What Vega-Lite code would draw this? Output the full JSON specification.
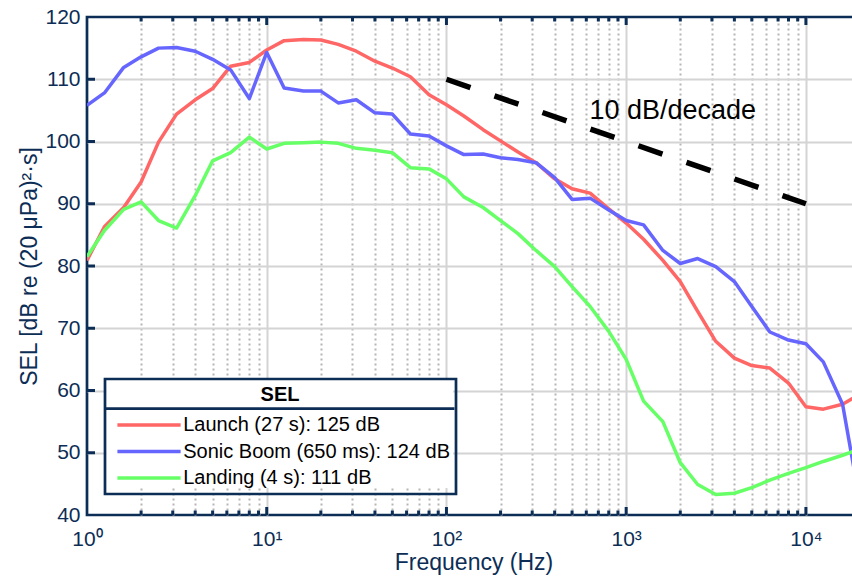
{
  "$schema": "https://vega.github.io/schema/vega-lite/v6.json",
  "autosize": {"type": "none"},
  "padding": {"left": 87, "top": 17, "right": 0, "bottom": 67},
  "width": 773,
  "height": 498,
  "config": {
    "font": "Liberation Sans",
    "view": {"stroke": "#0c2d55", "strokeWidth": 2.7},
    "legend": {"strokeWidth": 2.7}
  },
  "datasets": {
    "spectra": [
      {"series": "Launch (27 s): 125 dB", "freq": 1, "sel": 80.9},
      {"series": "Launch (27 s): 125 dB", "freq": 1.25, "sel": 86.3},
      {"series": "Launch (27 s): 125 dB", "freq": 1.6, "sel": 89.4},
      {"series": "Launch (27 s): 125 dB", "freq": 2, "sel": 93.5},
      {"series": "Launch (27 s): 125 dB", "freq": 2.5, "sel": 99.9},
      {"series": "Launch (27 s): 125 dB", "freq": 3.15, "sel": 104.4},
      {"series": "Launch (27 s): 125 dB", "freq": 4, "sel": 106.7},
      {"series": "Launch (27 s): 125 dB", "freq": 5, "sel": 108.5},
      {"series": "Launch (27 s): 125 dB", "freq": 6.3, "sel": 112.1},
      {"series": "Launch (27 s): 125 dB", "freq": 8, "sel": 112.7},
      {"series": "Launch (27 s): 125 dB", "freq": 10, "sel": 114.7},
      {"series": "Launch (27 s): 125 dB", "freq": 12.5, "sel": 116.2},
      {"series": "Launch (27 s): 125 dB", "freq": 16, "sel": 116.4},
      {"series": "Launch (27 s): 125 dB", "freq": 20, "sel": 116.3},
      {"series": "Launch (27 s): 125 dB", "freq": 25, "sel": 115.6},
      {"series": "Launch (27 s): 125 dB", "freq": 31.5, "sel": 114.5},
      {"series": "Launch (27 s): 125 dB", "freq": 40, "sel": 112.9},
      {"series": "Launch (27 s): 125 dB", "freq": 50, "sel": 111.8},
      {"series": "Launch (27 s): 125 dB", "freq": 63, "sel": 110.4},
      {"series": "Launch (27 s): 125 dB", "freq": 80, "sel": 107.5},
      {"series": "Launch (27 s): 125 dB", "freq": 100, "sel": 105.9},
      {"series": "Launch (27 s): 125 dB", "freq": 125, "sel": 104.1},
      {"series": "Launch (27 s): 125 dB", "freq": 160, "sel": 101.9},
      {"series": "Launch (27 s): 125 dB", "freq": 200, "sel": 100.1},
      {"series": "Launch (27 s): 125 dB", "freq": 250, "sel": 98.3},
      {"series": "Launch (27 s): 125 dB", "freq": 315, "sel": 96.6},
      {"series": "Launch (27 s): 125 dB", "freq": 400, "sel": 94.0},
      {"series": "Launch (27 s): 125 dB", "freq": 500, "sel": 92.4},
      {"series": "Launch (27 s): 125 dB", "freq": 630, "sel": 91.7},
      {"series": "Launch (27 s): 125 dB", "freq": 800, "sel": 89.2},
      {"series": "Launch (27 s): 125 dB", "freq": 1000, "sel": 86.9},
      {"series": "Launch (27 s): 125 dB", "freq": 1250, "sel": 84.3},
      {"series": "Launch (27 s): 125 dB", "freq": 1600, "sel": 80.9},
      {"series": "Launch (27 s): 125 dB", "freq": 2000, "sel": 77.5},
      {"series": "Launch (27 s): 125 dB", "freq": 2500, "sel": 72.7},
      {"series": "Launch (27 s): 125 dB", "freq": 3150, "sel": 67.9},
      {"series": "Launch (27 s): 125 dB", "freq": 4000, "sel": 65.2},
      {"series": "Launch (27 s): 125 dB", "freq": 5000, "sel": 64.0},
      {"series": "Launch (27 s): 125 dB", "freq": 6300, "sel": 63.6},
      {"series": "Launch (27 s): 125 dB", "freq": 8000, "sel": 61.2},
      {"series": "Launch (27 s): 125 dB", "freq": 10000, "sel": 57.4},
      {"series": "Launch (27 s): 125 dB", "freq": 12500, "sel": 57.0},
      {"series": "Launch (27 s): 125 dB", "freq": 16000, "sel": 57.8},
      {"series": "Launch (27 s): 125 dB", "freq": 20000, "sel": 59.4},
      {"series": "Sonic Boom (650 ms): 124 dB", "freq": 1, "sel": 105.8},
      {"series": "Sonic Boom (650 ms): 124 dB", "freq": 1.25, "sel": 107.8},
      {"series": "Sonic Boom (650 ms): 124 dB", "freq": 1.6, "sel": 111.9},
      {"series": "Sonic Boom (650 ms): 124 dB", "freq": 2, "sel": 113.6},
      {"series": "Sonic Boom (650 ms): 124 dB", "freq": 2.5, "sel": 115.0},
      {"series": "Sonic Boom (650 ms): 124 dB", "freq": 3.15, "sel": 115.1},
      {"series": "Sonic Boom (650 ms): 124 dB", "freq": 4, "sel": 114.5},
      {"series": "Sonic Boom (650 ms): 124 dB", "freq": 5, "sel": 113.2},
      {"series": "Sonic Boom (650 ms): 124 dB", "freq": 6.3, "sel": 111.5},
      {"series": "Sonic Boom (650 ms): 124 dB", "freq": 8, "sel": 106.9},
      {"series": "Sonic Boom (650 ms): 124 dB", "freq": 10, "sel": 114.3},
      {"series": "Sonic Boom (650 ms): 124 dB", "freq": 12.5, "sel": 108.6},
      {"series": "Sonic Boom (650 ms): 124 dB", "freq": 16, "sel": 108.1},
      {"series": "Sonic Boom (650 ms): 124 dB", "freq": 20, "sel": 108.1},
      {"series": "Sonic Boom (650 ms): 124 dB", "freq": 25, "sel": 106.2},
      {"series": "Sonic Boom (650 ms): 124 dB", "freq": 31.5, "sel": 106.7},
      {"series": "Sonic Boom (650 ms): 124 dB", "freq": 40, "sel": 104.6},
      {"series": "Sonic Boom (650 ms): 124 dB", "freq": 50, "sel": 104.4},
      {"series": "Sonic Boom (650 ms): 124 dB", "freq": 63, "sel": 101.2},
      {"series": "Sonic Boom (650 ms): 124 dB", "freq": 80, "sel": 100.9},
      {"series": "Sonic Boom (650 ms): 124 dB", "freq": 100, "sel": 99.3},
      {"series": "Sonic Boom (650 ms): 124 dB", "freq": 125, "sel": 97.9},
      {"series": "Sonic Boom (650 ms): 124 dB", "freq": 160, "sel": 98.0},
      {"series": "Sonic Boom (650 ms): 124 dB", "freq": 200, "sel": 97.4},
      {"series": "Sonic Boom (650 ms): 124 dB", "freq": 250, "sel": 97.1},
      {"series": "Sonic Boom (650 ms): 124 dB", "freq": 315, "sel": 96.6},
      {"series": "Sonic Boom (650 ms): 124 dB", "freq": 400, "sel": 94.2},
      {"series": "Sonic Boom (650 ms): 124 dB", "freq": 500, "sel": 90.7},
      {"series": "Sonic Boom (650 ms): 124 dB", "freq": 630, "sel": 90.9},
      {"series": "Sonic Boom (650 ms): 124 dB", "freq": 800, "sel": 89.0},
      {"series": "Sonic Boom (650 ms): 124 dB", "freq": 1000, "sel": 87.3},
      {"series": "Sonic Boom (650 ms): 124 dB", "freq": 1250, "sel": 86.6},
      {"series": "Sonic Boom (650 ms): 124 dB", "freq": 1600, "sel": 82.5},
      {"series": "Sonic Boom (650 ms): 124 dB", "freq": 2000, "sel": 80.4},
      {"series": "Sonic Boom (650 ms): 124 dB", "freq": 2500, "sel": 81.2},
      {"series": "Sonic Boom (650 ms): 124 dB", "freq": 3150, "sel": 79.9},
      {"series": "Sonic Boom (650 ms): 124 dB", "freq": 4000, "sel": 77.5},
      {"series": "Sonic Boom (650 ms): 124 dB", "freq": 5000, "sel": 73.5},
      {"series": "Sonic Boom (650 ms): 124 dB", "freq": 6300, "sel": 69.4},
      {"series": "Sonic Boom (650 ms): 124 dB", "freq": 8000, "sel": 68.1},
      {"series": "Sonic Boom (650 ms): 124 dB", "freq": 10000, "sel": 67.5},
      {"series": "Sonic Boom (650 ms): 124 dB", "freq": 12500, "sel": 64.6},
      {"series": "Sonic Boom (650 ms): 124 dB", "freq": 16000, "sel": 57.8},
      {"series": "Sonic Boom (650 ms): 124 dB", "freq": 20000, "sel": 42.0},
      {"series": "Landing (4 s): 111 dB", "freq": 1, "sel": 81.5},
      {"series": "Landing (4 s): 111 dB", "freq": 1.25, "sel": 85.7},
      {"series": "Landing (4 s): 111 dB", "freq": 1.6, "sel": 89.1},
      {"series": "Landing (4 s): 111 dB", "freq": 2, "sel": 90.3},
      {"series": "Landing (4 s): 111 dB", "freq": 2.5, "sel": 87.3},
      {"series": "Landing (4 s): 111 dB", "freq": 3.15, "sel": 86.1},
      {"series": "Landing (4 s): 111 dB", "freq": 4, "sel": 91.3},
      {"series": "Landing (4 s): 111 dB", "freq": 5, "sel": 96.9},
      {"series": "Landing (4 s): 111 dB", "freq": 6.3, "sel": 98.2},
      {"series": "Landing (4 s): 111 dB", "freq": 8, "sel": 100.7},
      {"series": "Landing (4 s): 111 dB", "freq": 10, "sel": 98.8},
      {"series": "Landing (4 s): 111 dB", "freq": 12.5, "sel": 99.7},
      {"series": "Landing (4 s): 111 dB", "freq": 16, "sel": 99.8},
      {"series": "Landing (4 s): 111 dB", "freq": 20, "sel": 99.9},
      {"series": "Landing (4 s): 111 dB", "freq": 25, "sel": 99.7},
      {"series": "Landing (4 s): 111 dB", "freq": 31.5, "sel": 98.9},
      {"series": "Landing (4 s): 111 dB", "freq": 40, "sel": 98.6},
      {"series": "Landing (4 s): 111 dB", "freq": 50, "sel": 98.2},
      {"series": "Landing (4 s): 111 dB", "freq": 63, "sel": 95.8},
      {"series": "Landing (4 s): 111 dB", "freq": 80, "sel": 95.6},
      {"series": "Landing (4 s): 111 dB", "freq": 100, "sel": 94.0},
      {"series": "Landing (4 s): 111 dB", "freq": 125, "sel": 91.1},
      {"series": "Landing (4 s): 111 dB", "freq": 160, "sel": 89.4},
      {"series": "Landing (4 s): 111 dB", "freq": 200, "sel": 87.3},
      {"series": "Landing (4 s): 111 dB", "freq": 250, "sel": 85.2},
      {"series": "Landing (4 s): 111 dB", "freq": 315, "sel": 82.5},
      {"series": "Landing (4 s): 111 dB", "freq": 400, "sel": 79.9},
      {"series": "Landing (4 s): 111 dB", "freq": 500, "sel": 76.7},
      {"series": "Landing (4 s): 111 dB", "freq": 630, "sel": 73.5},
      {"series": "Landing (4 s): 111 dB", "freq": 800, "sel": 69.5},
      {"series": "Landing (4 s): 111 dB", "freq": 1000, "sel": 65.0},
      {"series": "Landing (4 s): 111 dB", "freq": 1250, "sel": 58.3},
      {"series": "Landing (4 s): 111 dB", "freq": 1600, "sel": 55.0},
      {"series": "Landing (4 s): 111 dB", "freq": 2000, "sel": 48.4},
      {"series": "Landing (4 s): 111 dB", "freq": 2500, "sel": 44.9},
      {"series": "Landing (4 s): 111 dB", "freq": 3150, "sel": 43.3},
      {"series": "Landing (4 s): 111 dB", "freq": 4000, "sel": 43.5},
      {"series": "Landing (4 s): 111 dB", "freq": 5000, "sel": 44.4},
      {"series": "Landing (4 s): 111 dB", "freq": 6300, "sel": 45.6},
      {"series": "Landing (4 s): 111 dB", "freq": 8000, "sel": 46.7},
      {"series": "Landing (4 s): 111 dB", "freq": 10000, "sel": 47.6},
      {"series": "Landing (4 s): 111 dB", "freq": 12500, "sel": 48.6},
      {"series": "Landing (4 s): 111 dB", "freq": 16000, "sel": 49.6},
      {"series": "Landing (4 s): 111 dB", "freq": 20000, "sel": 50.6}
    ],
    "slope": [
      {"freq": 100, "sel": 110},
      {"freq": 10000, "sel": 90}
    ],
    "majorTicks": [{"freq": 10}, {"freq": 100}, {"freq": 1000}, {"freq": 10000}],
    "minorTicks": [
      {"freq": 2}, {"freq": 3}, {"freq": 4}, {"freq": 5}, {"freq": 6}, {"freq": 7}, {"freq": 8}, {"freq": 9},
      {"freq": 20}, {"freq": 30}, {"freq": 40}, {"freq": 50}, {"freq": 60}, {"freq": 70}, {"freq": 80}, {"freq": 90},
      {"freq": 200}, {"freq": 300}, {"freq": 400}, {"freq": 500}, {"freq": 600}, {"freq": 700}, {"freq": 800}, {"freq": 900},
      {"freq": 2000}, {"freq": 3000}, {"freq": 4000}, {"freq": 5000}, {"freq": 6000}, {"freq": 7000}, {"freq": 8000}, {"freq": 9000}
    ],
    "selTicks": [{"sel": 50}, {"sel": 60}, {"sel": 70}, {"sel": 80}, {"sel": 90}, {"sel": 100}, {"sel": 110}]
  },
  "resolve": {"axis": {"x": "independent", "y": "independent"}},
  "layer": [
    {
      "data": {"values": [{"part": "legend background"}]},
      "mark": {"type": "rect", "fill": "white"},
      "encoding": {
        "x": {
          "datum": 1.28, "type": "quantitative",
          "scale": {"type": "log", "domain": [1, 20000], "nice": false},
          "axis": {
            "orient": "top", "labels": false, "ticks": false, "domain": false, "title": null,
            "values": [2,3,4,5,6,7,8,9,20,30,40,50,60,70,80,90,200,300,400,500,600,700,800,900,2000,3000,4000,5000,6000,7000,8000,9000],
            "grid": true, "gridColor": "#b5b5b5", "gridDash": [2, 3], "gridWidth": 2
          }
        },
        "x2": {"datum": 109},
        "y": {
          "datum": 61.67, "type": "quantitative",
          "scale": {"domain": [40, 120], "nice": false, "zero": false},
          "axis": {
            "orient": "left", "labels": false, "ticks": false, "domain": false, "title": null,
            "values": [50, 60, 70, 80, 90, 100, 110],
            "grid": true, "gridColor": "#d4d4d4", "gridWidth": 2
          }
        },
        "y2": {"datum": 44.34}
      }
    },
    {
      "data": {"values": [{"part": "legend separator"}]},
      "mark": {"type": "rule", "color": "#0c2d55", "strokeWidth": 2.7},
      "encoding": {
        "x": {"datum": 1.264, "type": "quantitative", "scale": {"type": "log", "domain": [1, 20000], "nice": false}, "axis": null},
        "x2": {"datum": 110.8},
        "y": {"datum": 57.1, "type": "quantitative", "scale": {"domain": [40, 120], "nice": false, "zero": false}, "axis": null}
      }
    },
    {
      "data": {"name": "spectra"},
      "mark": {"type": "line", "strokeWidth": 3.5, "clip": true, "strokeJoin": "round"},
      "encoding": {
        "x": {
          "field": "freq", "type": "quantitative",
          "scale": {"type": "log", "domain": [1, 20000], "nice": false},
          "axis": {
            "orient": "bottom", "zindex": 1, "grid": false, "ticks": false, "domain": false,
            "values": [1, 10, 100, 1000, 10000],
            "labelExpr": "datum.value == 1 ? '10⁰' : datum.value == 10 ? '10¹' : datum.value == 100 ? '10²' : datum.value == 1000 ? '10³' : '10⁴'",
            "labelFontSize": 21, "labelColor": "#0c2d55", "labelPadding": 13, "labelFlush": false, "labelOverlap": false,
            "title": "Frequency (Hz)", "titleFontSize": 23, "titleFontWeight": "normal", "titleColor": "#0c2d55", "titlePadding": 2
          }
        },
        "y": {
          "field": "sel", "type": "quantitative",
          "scale": {"domain": [40, 120], "nice": false, "zero": false},
          "axis": {
            "orient": "left", "zindex": 1, "grid": false, "ticks": false, "domain": false,
            "values": [40, 50, 60, 70, 80, 90, 100, 110, 120],
            "labelFontSize": 21, "labelColor": "#0c2d55", "labelPadding": 7,
            "title": "SEL [dB re (20 μPa)²·s]", "titleFontSize": 23, "titleFontWeight": "normal", "titleColor": "#0c2d55", "titlePadding": 3
          }
        },
        "color": {
          "field": "series", "type": "nominal",
          "scale": {
            "domain": ["Launch (27 s): 125 dB", "Sonic Boom (650 ms): 124 dB", "Landing (4 s): 111 dB"],
            "range": ["#ff6666", "#6666ff", "#66ff66"]
          },
          "legend": {
            "title": "SEL", "orient": "none", "legendX": 18, "legendY": 362, "direction": "vertical",
            "titleFontSize": 20, "titleFontWeight": "bold", "titleColor": "black", "titleAnchor": "middle", "titlePadding": 10,
            "labelFontSize": 20, "labelColor": "black", "labelLimit": 400, "labelOffset": 24.2,
            "symbolType": "M-6,0H6", "symbolSize": 111, "symbolStrokeWidth": 3.5, "symbolOffset": 28,
            "padding": 6, "rowPadding": 6.5, "strokeColor": "#0c2d55"
          }
        }
      }
    },
    {
      "data": {"name": "slope"},
      "mark": {"type": "line", "color": "black", "strokeWidth": 5.5, "strokeDash": [25.4, 25.4], "strokeCap": "butt"},
      "encoding": {
        "x": {"field": "freq", "type": "quantitative", "scale": {"type": "log", "domain": [1, 20000], "nice": false}, "axis": null},
        "y": {"field": "sel", "type": "quantitative", "scale": {"domain": [40, 120], "nice": false, "zero": false}, "axis": null}
      }
    },
    {
      "data": {"values": [{"label": "10 dB/decade"}]},
      "mark": {"type": "text", "fontSize": 27, "align": "left", "baseline": "alphabetic", "color": "black"},
      "encoding": {
        "x": {
          "datum": 625, "type": "quantitative",
          "scale": {"type": "log", "domain": [1, 20000], "nice": false},
          "axis": {
            "orient": "bottom", "labels": false, "ticks": false, "domain": false, "title": null,
            "values": [10, 100, 1000, 10000],
            "grid": true, "gridColor": "#d4d4d4", "gridWidth": 2
          }
        },
        "y": {"datum": 103.6, "type": "quantitative", "scale": {"domain": [40, 120], "nice": false, "zero": false}, "axis": null},
        "text": {"field": "label"}
      }
    },
    {
      "data": {"name": "majorTicks"},
      "mark": {"type": "tick", "orient": "vertical", "size": 8, "thickness": 3, "color": "#0c2d55", "opacity": 1, "yOffset": -4},
      "encoding": {
        "x": {"field": "freq", "type": "quantitative", "scale": {"type": "log", "domain": [1, 20000], "nice": false}, "axis": null},
        "y": {"datum": 40, "type": "quantitative", "scale": {"domain": [40, 120], "nice": false, "zero": false}, "axis": null}
      }
    },
    {
      "data": {"name": "minorTicks"},
      "mark": {"type": "tick", "orient": "vertical", "size": 4.5, "thickness": 3, "color": "#0c2d55", "opacity": 1, "yOffset": -2.25},
      "encoding": {
        "x": {"field": "freq", "type": "quantitative", "scale": {"type": "log", "domain": [1, 20000], "nice": false}, "axis": null},
        "y": {"datum": 40, "type": "quantitative", "scale": {"domain": [40, 120], "nice": false, "zero": false}, "axis": null}
      }
    },
    {
      "data": {"name": "majorTicks"},
      "mark": {"type": "tick", "orient": "vertical", "size": 8, "thickness": 3, "color": "#0c2d55", "opacity": 1, "yOffset": 4},
      "encoding": {
        "x": {"field": "freq", "type": "quantitative", "scale": {"type": "log", "domain": [1, 20000], "nice": false}, "axis": null},
        "y": {"datum": 120, "type": "quantitative", "scale": {"domain": [40, 120], "nice": false, "zero": false}, "axis": null}
      }
    },
    {
      "data": {"name": "minorTicks"},
      "mark": {"type": "tick", "orient": "vertical", "size": 4.5, "thickness": 3, "color": "#0c2d55", "opacity": 1, "yOffset": 2.25},
      "encoding": {
        "x": {"field": "freq", "type": "quantitative", "scale": {"type": "log", "domain": [1, 20000], "nice": false}, "axis": null},
        "y": {"datum": 120, "type": "quantitative", "scale": {"domain": [40, 120], "nice": false, "zero": false}, "axis": null}
      }
    },
    {
      "data": {"name": "selTicks"},
      "mark": {"type": "tick", "orient": "horizontal", "size": 8, "thickness": 3, "color": "#0c2d55", "opacity": 1, "xOffset": 4},
      "encoding": {
        "x": {"datum": 1, "type": "quantitative", "scale": {"type": "log", "domain": [1, 20000], "nice": false}, "axis": null},
        "y": {"field": "sel", "type": "quantitative", "scale": {"domain": [40, 120], "nice": false, "zero": false}, "axis": null}
      }
    },
    {
      "data": {"name": "selTicks"},
      "mark": {"type": "tick", "orient": "horizontal", "size": 8, "thickness": 3, "color": "#0c2d55", "opacity": 1, "xOffset": -4},
      "encoding": {
        "x": {"datum": 20000, "type": "quantitative", "scale": {"type": "log", "domain": [1, 20000], "nice": false}, "axis": null},
        "y": {"field": "sel", "type": "quantitative", "scale": {"domain": [40, 120], "nice": false, "zero": false}, "axis": null}
      }
    }
  ]
}
